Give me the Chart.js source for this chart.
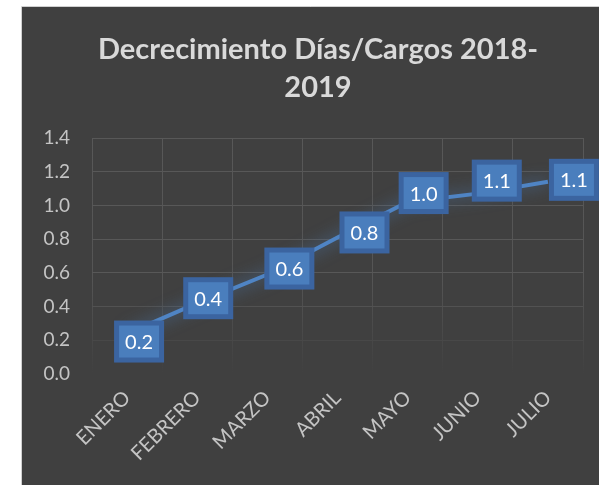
<!DOCTYPE html>
<html>
<head>
<meta charset="utf-8">
<script src="https://cdn.jsdelivr.net/npm/chart.js@4/dist/chart.umd.min.js"></script>
<style>
  html, body { margin: 0; padding: 0; background: #ffffff; }
  #wrap { width: 599px; height: 485px; position: relative; }
</style>
</head>
<body>
<div id="wrap"><canvas id="c" width="599" height="485"></canvas></div>
<script>
// ---- data ----
const titleLines = ["Decrecimiento Días/Cargos 2018-", "2019"];
const months = ["ENERO", "FEBRERO", "MARZO", "ABRIL", "MAYO", "JUNIO", "JULIO"];
const values = [0.24, 0.42, 0.59, 0.81, 1.02, 1.07, 1.14];
const yTicks = [0.0, 0.2, 0.4, 0.6, 0.8, 1.0, 1.2, 1.4];

// label box offsets relative to each point (style/position, not data)
const labelOffsets = [[12, 8], [11, -5], [22, -6], [27, -5], [16, -9], [19, -13], [26, -2]];

const panelPlugin = {
  id: 'panel',
  beforeDraw(chart) {
    const ctx = chart.ctx;
    ctx.save();
    ctx.fillStyle = '#ffffff';
    ctx.fillRect(0, 0, chart.width, chart.height);
    ctx.fillStyle = '#404040';
    ctx.fillRect(22, 7, chart.width - 22, chart.height - 7);
    ctx.strokeStyle = '#d0d0d0';
    ctx.lineWidth = 1;
    ctx.beginPath();
    ctx.moveTo(21.5, chart.height);
    ctx.lineTo(21.5, 6.5);
    ctx.lineTo(chart.width, 6.5);
    ctx.stroke();
    // title
    ctx.fillStyle = '#d9d9d9';
    ctx.font = 'bold 29px Lato';
    ctx.textAlign = 'center';
    ctx.textBaseline = 'middle';
    ctx.fillText(titleLines[0], 318, 50);
    ctx.fillText(titleLines[1], 318, 88);
    ctx.restore();
  }
};

const glowPlugin = {
  id: 'glow',
  beforeDatasetDraw(chart) {
    const ctx = chart.ctx;
    ctx.save();
    ctx.shadowColor = 'rgba(79,129,189,0.85)';
    ctx.shadowBlur = 16;
  },
  afterDatasetDraw(chart) {
    chart.ctx.restore();
  }
};

const boxLabelPlugin = {
  id: 'boxLabels',
  afterDatasetsDraw(chart) {
    const ctx = chart.ctx;
    const meta = chart.getDatasetMeta(0);
    ctx.save();
    ctx.font = '20px Lato';
    ctx.textAlign = 'center';
    ctx.textBaseline = 'middle';
    meta.data.forEach((pt, i) => {
      const off = labelOffsets[i] || [0, 0];
      const cx = pt.x + off[0], cy = pt.y + off[1];
      const w = 46, h = 38;
      ctx.fillStyle = '#3b64a0';
      ctx.fillRect(cx - w / 2 - 2, cy - h / 2 - 2, w + 4, h + 4);
      ctx.fillStyle = '#4a7ebd';
      ctx.fillRect(cx - w / 2 + 3, cy - h / 2 + 3, w - 6, h - 6);
      ctx.fillStyle = '#ffffff';
      ctx.fillText(values[i].toFixed(1), cx, cy + 1);
    });
    ctx.restore();
  }
};

function vGridColor(c) {
  const chart = c.chart;
  const area = chart.chartArea;
  if (!area) return '#585858';
  const g = chart.ctx.createLinearGradient(0, area.top, 0, area.bottom);
  g.addColorStop(0, '#585858');
  g.addColorStop(0.6, '#555555');
  g.addColorStop(1, '#404040');
  return g;
}

function hGridColor(c) {
  const v = c.tick ? c.tick.value : 1;
  if (v < 0.1) return 'rgba(0,0,0,0)';
  if (v < 0.3) return '#484848';
  if (v < 0.5) return '#525252';
  return '#585858';
}

new Chart(document.getElementById('c'), {
  type: 'line',
  data: {
    labels: months,
    datasets: [{
      data: values,
      borderColor: '#4f84c4',
      borderWidth: 4,
      pointRadius: 0,
      tension: 0,
      fill: false
    }]
  },
  options: {
    responsive: false,
    animation: false,
    devicePixelRatio: 1,
    layout: { padding: { left: 22, right: 16, top: 138, bottom: 0 } },
    plugins: {
      legend: { display: false },
      tooltip: { enabled: false },
      title: { display: false }
    },
    scales: {
      x: {
        offset: true,
        grid: { offset: true, color: vGridColor, lineWidth: 1, drawTicks: false },
        border: { display: false },
        ticks: {
          color: '#c4c4c4',
          font: { family: 'Lato', size: 20 },
          maxRotation: 45, minRotation: 45,
          padding: 12
        },
        afterFit(scale) { scale.height = 111; }
      },
      y: {
        min: 0, max: 1.4,
        afterBuildTicks(scale) { scale.ticks = yTicks.map(v => ({ value: v })); },
        grid: { color: hGridColor, lineWidth: 1, drawTicks: false },
        border: { display: false },
        ticks: {
          color: '#c4c4c4',
          font: { family: 'Lato', size: 19 },
          padding: 22,
          callback: v => Number(v).toFixed(1)
        },
        afterFit(scale) { scale.width = 70; }
      }
    }
  },
  plugins: [panelPlugin, glowPlugin, boxLabelPlugin]
});
</script>
</body>
</html>
